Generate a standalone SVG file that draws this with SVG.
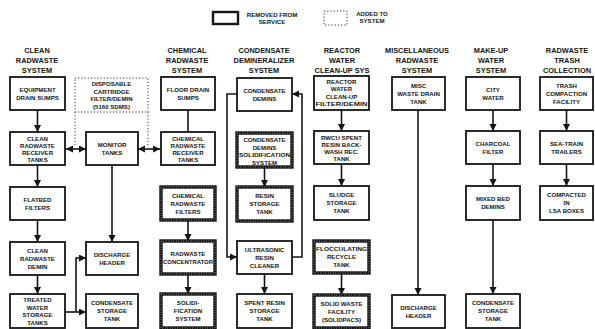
<svg xmlns="http://www.w3.org/2000/svg" width="595" height="329" viewBox="0 0 595 329">
<style>
.bx{fill:#fff;stroke:#141414;stroke-width:1.8}
.rm{fill:#fff;stroke:#141414;stroke-width:3.4}
.rmg{fill:none;stroke:#fff;stroke-width:0.7;stroke-dasharray:0.7 1.8}
.ad{fill:none;stroke:#333;stroke-width:1;stroke-dasharray:1.2 2}
.t{font-family:"Liberation Sans",Arial,sans-serif;font-weight:bold;font-size:6.1px;text-anchor:middle;fill:#141414}
.h{font-size:7.4px}
.c{fill:none;stroke:#141414;stroke-width:1.6}
.ca{fill:none;stroke:#141414;stroke-width:1.6;marker-end:url(#ah)}
.cd{fill:none;stroke:#141414;stroke-width:1.6;marker-end:url(#ah);marker-start:url(#ahs)}
</style>
<defs>
<marker id="ah" markerUnits="userSpaceOnUse" markerWidth="8" markerHeight="8" refX="7" refY="3.5" orient="auto"><path d="M0,0 L7,3.5 L0,7 z" fill="#141414"/></marker>
<marker id="ahs" markerUnits="userSpaceOnUse" markerWidth="8" markerHeight="8" refX="7" refY="3.5" orient="auto-start-reverse"><path d="M0,0 L7,3.5 L0,7 z" fill="#141414"/></marker>
</defs>
<rect width="595" height="329" fill="#fff"/>

<g id="legend">
<rect x="213" y="12" width="25" height="12" class="bx" style="stroke-width:2.4"/>
<text class="t" x="272" y="17">REMOVED FROM</text>
<text class="t" x="272" y="24">SERVICE</text>
<rect x="324" y="11" width="23" height="14" class="ad"/>
<text class="t" x="372" y="16">ADDED TO</text>
<text class="t" x="372" y="23">SYSTEM</text>
</g>

<g id="headers">
<text class="t h" x="37" y="53">CLEAN</text><text class="t h" x="37" y="63">RADWASTE</text><text class="t h" x="37" y="73">SYSTEM</text>
<text class="t h" x="187" y="53">CHEMICAL</text><text class="t h" x="187" y="63">RADWASTE</text><text class="t h" x="187" y="73">SYSTEM</text>
<text class="t h" x="264" y="53">CONDENSATE</text><text class="t h" x="264" y="63">DEMINERALIZER</text><text class="t h" x="264" y="73">SYSTEM</text>
<text class="t h" x="342" y="53">REACTOR</text><text class="t h" x="342" y="63">WATER</text><text class="t h" x="342" y="73">CLEAN-UP SYS</text>
<text class="t h" x="417" y="53">MISCELLANEOUS</text><text class="t h" x="417" y="63">RADWASTE</text><text class="t h" x="417" y="73">SYSTEM</text>
<text class="t h" x="491" y="53">MAKE-UP</text><text class="t h" x="491" y="63">WATER</text><text class="t h" x="491" y="73">SYSTEM</text>
<text class="t h" x="567" y="53">RADWASTE</text><text class="t h" x="567" y="63">TRASH</text><text class="t h" x="567" y="73">COLLECTION</text>
</g>

<g id="connectors">
<line class="ca" x1="37.5" y1="110" x2="37.5" y2="132"/>
<line class="ca" x1="37.5" y1="165" x2="37.5" y2="187"/>
<line class="ca" x1="37.5" y1="220" x2="37.5" y2="242"/>
<line class="ca" x1="37.5" y1="275" x2="37.5" y2="294"/>
<line class="cd" x1="66" y1="149" x2="86" y2="149"/>
<line class="cd" x1="138" y1="149" x2="160" y2="149"/>
<line class="ad" x1="75" y1="112" x2="75" y2="145"/>
<line class="ad" x1="148" y1="112" x2="148" y2="146"/>
<line class="ca" x1="112" y1="165" x2="112" y2="242"/>
<line class="ca" x1="65" y1="312" x2="86" y2="312"/>
<polyline class="ca" points="76,312 76,258 86,258"/>
<line class="c" x1="188" y1="110" x2="188" y2="132"/>
<line class="ca" x1="188" y1="220" x2="188" y2="241"/>
<line class="ca" x1="188" y1="274" x2="188" y2="294"/>
<line class="ca" x1="264.5" y1="167" x2="264.5" y2="187"/>
<line class="ca" x1="264.5" y1="274" x2="264.5" y2="294"/>
<polyline class="ca" points="237,94 227,94 227,257 237,257"/>
<polyline class="ca" points="292,257 302,257 302,94 292,94"/>
<line class="ca" x1="341.5" y1="110" x2="341.5" y2="131"/>
<line class="ca" x1="341.5" y1="164" x2="341.5" y2="186"/>
<line class="ca" x1="341.5" y1="273" x2="341.5" y2="295"/>
<line class="ca" x1="418" y1="110" x2="418" y2="295"/>
<line class="ca" x1="493" y1="110" x2="493" y2="131"/>
<line class="ca" x1="493" y1="164" x2="493" y2="186"/>
<line class="ca" x1="493" y1="220" x2="493" y2="294"/>
<line class="ca" x1="566.5" y1="110" x2="566.5" y2="131"/>
<line class="ca" x1="566.5" y1="164" x2="566.5" y2="186"/>
</g>

<g id="equipment-drain-sumps"><rect class="bx" x="10" y="77" width="55" height="33"/>
<text class="t" x="37.5" y="91.7">EQUIPMENT</text><text class="t" x="37.5" y="99.7">DRAIN SUMPS</text></g>
<g id="clean-receiver-tanks"><rect class="bx" x="10" y="132" width="55" height="33"/>
<text class="t" x="37.5" y="140.7">CLEAN</text><text class="t" x="37.5" y="147.7">RADWASTE</text><text class="t" x="37.5" y="154.7">RECEIVER</text><text class="t" x="37.5" y="161.7">TANKS</text></g>
<g id="flatbed-filters"><rect class="bx" x="10" y="187" width="55" height="33"/>
<text class="t" x="37.5" y="201.7">FLATBED</text><text class="t" x="37.5" y="209.7">FILTERS</text></g>
<g id="clean-radwaste-demin"><rect class="bx" x="10" y="242" width="55" height="33"/>
<text class="t" x="37.5" y="252.7">CLEAN</text><text class="t" x="37.5" y="260.7">RADWASTE</text><text class="t" x="37.5" y="268.7">DEMIN</text></g>
<g id="treated-water-storage"><rect class="bx" x="10" y="294" width="55" height="34"/>
<text class="t" x="37.5" y="302">TREATED</text><text class="t" x="37.5" y="309.5">WATER</text><text class="t" x="37.5" y="317">STORAGE</text><text class="t" x="37.5" y="324.5">TANKS</text></g>

<g id="disposable-cartridge"><rect class="ad" x="75" y="78" width="73" height="34"/>
<text class="t" x="111.5" y="86">DISPOSABLE</text><text class="t" x="111.5" y="93.5">CARTRIDGE</text><text class="t" x="111.5" y="101">FILTER/DEMIN</text><text class="t" x="111.5" y="108.5">(5160 SDMS)</text></g>
<g id="monitor-tanks"><rect class="bx" x="86" y="132" width="52" height="33"/>
<text class="t" x="112" y="146.7">MONITOR</text><text class="t" x="112" y="154.7">TANKS</text></g>
<g id="discharge-header-1"><rect class="bx" x="86" y="242" width="52" height="33"/>
<text class="t" x="112" y="256.7">DISCHARGE</text><text class="t" x="112" y="264.7">HEADER</text></g>
<g id="condensate-storage-1"><rect class="bx" x="86" y="294" width="52" height="34"/>
<text class="t" x="112" y="305">CONDENSATE</text><text class="t" x="112" y="313">STORAGE</text><text class="t" x="112" y="321">TANK</text></g>

<g id="floor-drain-sumps"><rect class="bx" x="161" y="77" width="54" height="33"/>
<text class="t" x="188" y="91.7">FLOOR DRAIN</text><text class="t" x="188" y="99.7">SUMPS</text></g>
<g id="chemical-receiver-tanks"><rect class="bx" x="161" y="132" width="54" height="33"/>
<text class="t" x="188" y="140.7">CHEMICAL</text><text class="t" x="188" y="147.7">RADWASTE</text><text class="t" x="188" y="154.7">RECEIVER</text><text class="t" x="188" y="161.7">TANKS</text></g>
<g id="chemical-radwaste-filters"><rect class="rm" x="161" y="187" width="54" height="33"/><rect class="rmg" x="161" y="187" width="54" height="33"/>
<text class="t" x="188" y="197.7">CHEMICAL</text><text class="t" x="188" y="205.7">RADWASTE</text><text class="t" x="188" y="213.7">FILTERS</text></g>
<g id="radwaste-concentrator"><rect class="rm" x="161" y="241" width="54" height="33"/><rect class="rmg" x="161" y="241" width="54" height="33"/>
<text class="t" x="188" y="255.7">RADWASTE</text><text class="t" x="188" y="263.7" textLength="50" lengthAdjust="spacingAndGlyphs">CONCENTRATOR</text></g>
<g id="solidification-system"><rect class="rm" x="161" y="294" width="54" height="34"/><rect class="rmg" x="161" y="294" width="54" height="34"/>
<text class="t" x="188" y="305">SOLIDI-</text><text class="t" x="188" y="313">FICATION</text><text class="t" x="188" y="321">SYSTEM</text></g>

<g id="condensate-demins"><rect class="bx" x="237" y="78" width="55" height="33"/>
<text class="t" x="264.5" y="92.7">CONDENSATE</text><text class="t" x="264.5" y="100.7">DEMINS</text></g>
<g id="condensate-demins-solidification"><rect class="rm" x="237" y="133" width="55" height="34"/><rect class="rmg" x="237" y="133" width="55" height="34"/>
<text class="t" x="264.5" y="142">CONDENSATE</text><text class="t" x="264.5" y="149.5">DEMINS</text><text class="t" x="264.5" y="157" textLength="51" lengthAdjust="spacingAndGlyphs">SOLIDIFICATION</text><text class="t" x="264.5" y="164.5">SYSTEM</text></g>
<g id="resin-storage-tank"><rect class="rm" x="237" y="187" width="55" height="34"/><rect class="rmg" x="237" y="187" width="55" height="34"/>
<text class="t" x="264.5" y="198">RESIN</text><text class="t" x="264.5" y="206">STORAGE</text><text class="t" x="264.5" y="214">TANK</text></g>
<g id="ultrasonic-resin-cleaner"><rect class="bx" x="237" y="241" width="55" height="33"/>
<text class="t" x="264.5" y="251.7">ULTRASONIC</text><text class="t" x="264.5" y="259.7">RESIN</text><text class="t" x="264.5" y="267.7">CLEANER</text></g>
<g id="spent-resin-storage"><rect class="bx" x="237" y="294" width="55" height="34"/>
<text class="t" x="264.5" y="305">SPENT RESIN</text><text class="t" x="264.5" y="313">STORAGE</text><text class="t" x="264.5" y="321">TANK</text></g>

<g id="rwcu-filter-demin"><rect class="bx" x="314" y="76" width="55" height="34"/>
<text class="t" x="341.5" y="83.5">REACTOR</text><text class="t" x="341.5" y="91">WATER</text><text class="t" x="341.5" y="98.5">CLEAN-UP</text><text class="t" x="341.5" y="106" textLength="52" lengthAdjust="spacingAndGlyphs">FILTER/DEMIN</text></g>
<g id="rwcu-spent-resin-tank"><rect class="bx" x="314" y="131" width="55" height="33"/>
<text class="t" x="341.5" y="139.7">RWCU SPENT</text><text class="t" x="341.5" y="146.7">RESIN BACK-</text><text class="t" x="341.5" y="153.7">WASH REC.</text><text class="t" x="341.5" y="160.7">TANK</text></g>
<g id="sludge-storage-tank"><rect class="bx" x="314" y="186" width="55" height="34"/>
<text class="t" x="341.5" y="197">SLUDGE</text><text class="t" x="341.5" y="205">STORAGE</text><text class="t" x="341.5" y="213">TANK</text></g>
<g id="flocculating-recycle-tank"><rect class="rm" x="314" y="241" width="55" height="32"/><rect class="rmg" x="314" y="241" width="55" height="32"/>
<text class="t" x="341.5" y="251.2" textLength="51" lengthAdjust="spacingAndGlyphs">FLOCCULATING</text><text class="t" x="341.5" y="259.2">RECYCLE</text><text class="t" x="341.5" y="267.2">TANK</text></g>
<g id="solid-waste-facility"><rect class="rm" x="314" y="295" width="55" height="33"/><rect class="rmg" x="314" y="295" width="55" height="33"/>
<text class="t" x="341.5" y="305.5">SOLID WASTE</text><text class="t" x="341.5" y="313.5">FACILITY</text><text class="t" x="341.5" y="321.5">(SOLIDPACS)</text></g>

<g id="misc-waste-drain-tank"><rect class="bx" x="392" y="77" width="53" height="33"/>
<text class="t" x="418.5" y="87.7">MISC</text><text class="t" x="418.5" y="95.7">WASTE DRAIN</text><text class="t" x="418.5" y="103.7">TANK</text></g>
<g id="discharge-header-2"><rect class="bx" x="392" y="295" width="53" height="33"/>
<text class="t" x="418.5" y="309.7">DISCHARGE</text><text class="t" x="418.5" y="317.7">HEADER</text></g>

<g id="city-water"><rect class="bx" x="466" y="77" width="54" height="33"/>
<text class="t" x="493" y="91.7">CITY</text><text class="t" x="493" y="99.7">WATER</text></g>
<g id="charcoal-filter"><rect class="bx" x="466" y="131" width="54" height="33"/>
<text class="t" x="493" y="145.7">CHARCOAL</text><text class="t" x="493" y="153.7">FILTER</text></g>
<g id="mixed-bed-demins"><rect class="bx" x="466" y="186" width="54" height="34"/>
<text class="t" x="493" y="201">MIXED BED</text><text class="t" x="493" y="209">DEMINS</text></g>
<g id="condensate-storage-2"><rect class="bx" x="466" y="294" width="54" height="34"/>
<text class="t" x="493" y="305">CONDENSATE</text><text class="t" x="493" y="313">STORAGE</text><text class="t" x="493" y="321">TANK</text></g>

<g id="trash-compaction"><rect class="bx" x="540" y="77" width="53" height="33"/>
<text class="t" x="566.5" y="87.7">TRASH</text><text class="t" x="566.5" y="95.7">COMPACTION</text><text class="t" x="566.5" y="103.7">FACILITY</text></g>
<g id="sea-train-trailers"><rect class="bx" x="540" y="131" width="53" height="33"/>
<text class="t" x="566.5" y="145.7">SEA-TRAIN</text><text class="t" x="566.5" y="153.7">TRAILERS</text></g>
<g id="compacted-lsa-boxes"><rect class="bx" x="540" y="186" width="53" height="34"/>
<text class="t" x="566.5" y="197">COMPACTED</text><text class="t" x="566.5" y="205">IN</text><text class="t" x="566.5" y="213">LSA BOXES</text></g>
</svg>
